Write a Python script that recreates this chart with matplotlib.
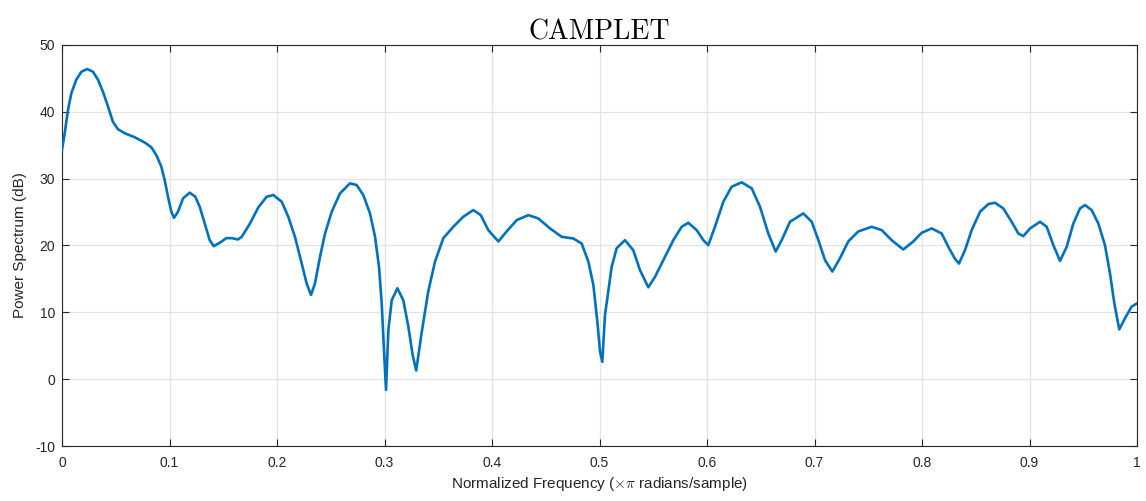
import matplotlib
matplotlib.use("Agg")
import matplotlib.pyplot as plt

freq = [0.0, 0.0025, 0.0056, 0.0087, 0.0133, 0.018, 0.0235, 0.0288, 0.0335, 0.0381,
        0.0428, 0.0474, 0.052, 0.0583, 0.0676, 0.077, 0.0831, 0.0878, 0.0924, 0.0955,
        0.0986, 0.1017, 0.1042, 0.1079, 0.1126, 0.1188, 0.124, 0.1281, 0.1327, 0.1374,
        0.1411, 0.1467, 0.1528, 0.158, 0.1637, 0.1672, 0.1749, 0.1826, 0.1904, 0.1966,
        0.2044, 0.2105, 0.2167, 0.223, 0.2276, 0.2316, 0.2353, 0.24, 0.2447, 0.2509,
        0.2586, 0.2679, 0.2741, 0.2803, 0.2865, 0.2912, 0.2949, 0.2974, 0.2995, 0.3014,
        0.3036, 0.3067, 0.312, 0.3175, 0.3222, 0.3262, 0.3295, 0.3346, 0.3408, 0.347,
        0.3547, 0.364, 0.3733, 0.3826, 0.3895, 0.3966, 0.4059, 0.4136, 0.423, 0.4338,
        0.4431, 0.454, 0.4648, 0.4756, 0.4834, 0.4896, 0.4943, 0.498, 0.5005, 0.5026,
        0.5051, 0.5073, 0.5113, 0.516, 0.5237, 0.5314, 0.5377, 0.5454, 0.5516, 0.5594,
        0.5687, 0.5764, 0.5826, 0.5904, 0.5966, 0.6012, 0.6074, 0.6152, 0.623, 0.6323,
        0.6416, 0.6493, 0.657, 0.6639, 0.6695, 0.6772, 0.6896, 0.6974, 0.7036, 0.7098,
        0.7166, 0.7237, 0.7314, 0.7407, 0.7532, 0.7625, 0.7718, 0.7826, 0.7919, 0.7997,
        0.809, 0.8183, 0.8245, 0.8307, 0.8344, 0.84, 0.8462, 0.854, 0.8617, 0.8679,
        0.8756, 0.8834, 0.8896, 0.8942, 0.9005, 0.9098, 0.916, 0.9222, 0.9284, 0.9346,
        0.9408, 0.947, 0.9516, 0.9578, 0.964, 0.9702, 0.9749, 0.9789, 0.9835, 0.9888,
        0.995, 1.0]
power_db = [34.3, 36.8, 40.3, 42.8, 44.8, 46.0, 46.4, 46.0, 44.8, 43.0,
            40.8, 38.5, 37.4, 36.8, 36.2, 35.4, 34.7, 33.5, 31.8, 29.8,
            27.3, 25.05, 24.15, 25.05, 27.05, 27.9, 27.3, 25.8, 23.3, 20.8,
            19.9, 20.4, 21.1, 21.1, 20.9, 21.3, 23.3, 25.7, 27.3, 27.55,
            26.55, 24.3, 21.3, 17.3, 14.3, 12.6, 14.3, 18.3, 21.8, 25.05,
            27.8, 29.3, 29.05, 27.55, 24.8, 21.3, 16.8, 11.35, 4.35, -1.6,
            7.35, 11.8, 13.6, 11.8, 7.85, 3.6, 1.3, 7.0, 13.2, 17.6,
            21.1, 22.8, 24.3, 25.3, 24.55, 22.3, 20.6, 22.1, 23.8, 24.55,
            24.05, 22.55, 21.3, 21.05, 20.3, 17.6, 14.1, 8.6, 4.1, 2.6,
            9.6, 12.1, 16.8, 19.6, 20.8, 19.3, 16.3, 13.75, 15.3, 17.8,
            20.8, 22.8, 23.4, 22.3, 20.8, 20.05, 22.8, 26.55, 28.8, 29.45,
            28.55, 25.8, 21.8, 19.1, 20.8, 23.55, 24.8, 23.55, 20.8, 17.8,
            16.1, 18.1, 20.6, 22.1, 22.8, 22.3, 20.8, 19.4, 20.6, 21.9,
            22.55, 21.8, 19.8, 18.0, 17.3, 19.3, 22.3, 25.05, 26.2, 26.4,
            25.55, 23.55, 21.8, 21.4, 22.55, 23.55, 22.8, 20.05, 17.7, 19.8,
            23.3, 25.55, 26.05, 25.3, 23.3, 20.05, 15.8, 11.35, 7.45, 9.1,
            10.85, 11.35]

x_ticks = [0, 0.1, 0.2, 0.3, 0.4, 0.5, 0.6, 0.7, 0.8, 0.9, 1.0]
x_tick_labels = ["0", "0.1", "0.2", "0.3", "0.4", "0.5", "0.6", "0.7", "0.8", "0.9", "1"]
y_ticks = [-10, 0, 10, 20, 30, 40, 50]
y_tick_labels = ["-10", "0", "10", "20", "30", "40", "50"]

plt.rcParams['font.family'] = ['Liberation Sans', 'DejaVu Sans']
plt.rcParams['mathtext.fontset'] = 'cm'

fig = plt.figure(figsize=(11.46, 5.01), dpi=100)
ax = fig.add_axes([62/1146, 1-446/501, (1137-62)/1146, (446-45)/501])

ax.plot(freq, power_db, color='#0072BD', linewidth=1.9,
        solid_joinstyle='round', solid_capstyle='round', zorder=3)

ax.set_xlim(0, 1)
ax.set_ylim(-10, 50)
ax.set_xticks(x_ticks)
ax.set_xticklabels(x_tick_labels)
ax.set_yticks(y_ticks)
ax.set_yticklabels(y_tick_labels)
ax.grid(True, color='#e3e3e3', linewidth=0.9)
ax.set_axisbelow(True)
for s in ax.spines.values():
    s.set_color('#262626')
    s.set_linewidth(0.8)
ax.tick_params(direction='in', length=5, width=0.8, colors='#262626', labelsize=10,
               top=True, right=True, labelcolor='#262626')
ax.tick_params(axis='x', pad=7)
ax.tick_params(axis='y', pad=5)

ax.set_xlabel(r'Normalized Frequency ($\times\pi$ radians/sample)', fontsize=11, color='#262626', labelpad=4)
ax.set_ylabel('Power Spectrum (dB)', fontsize=11, color='#262626', labelpad=6)
ax.set_title('CAMPLET', family=['cmr10', 'DejaVu Serif'], fontsize=20, color='black', pad=4)

fig.savefig('out.png', dpi=100)
